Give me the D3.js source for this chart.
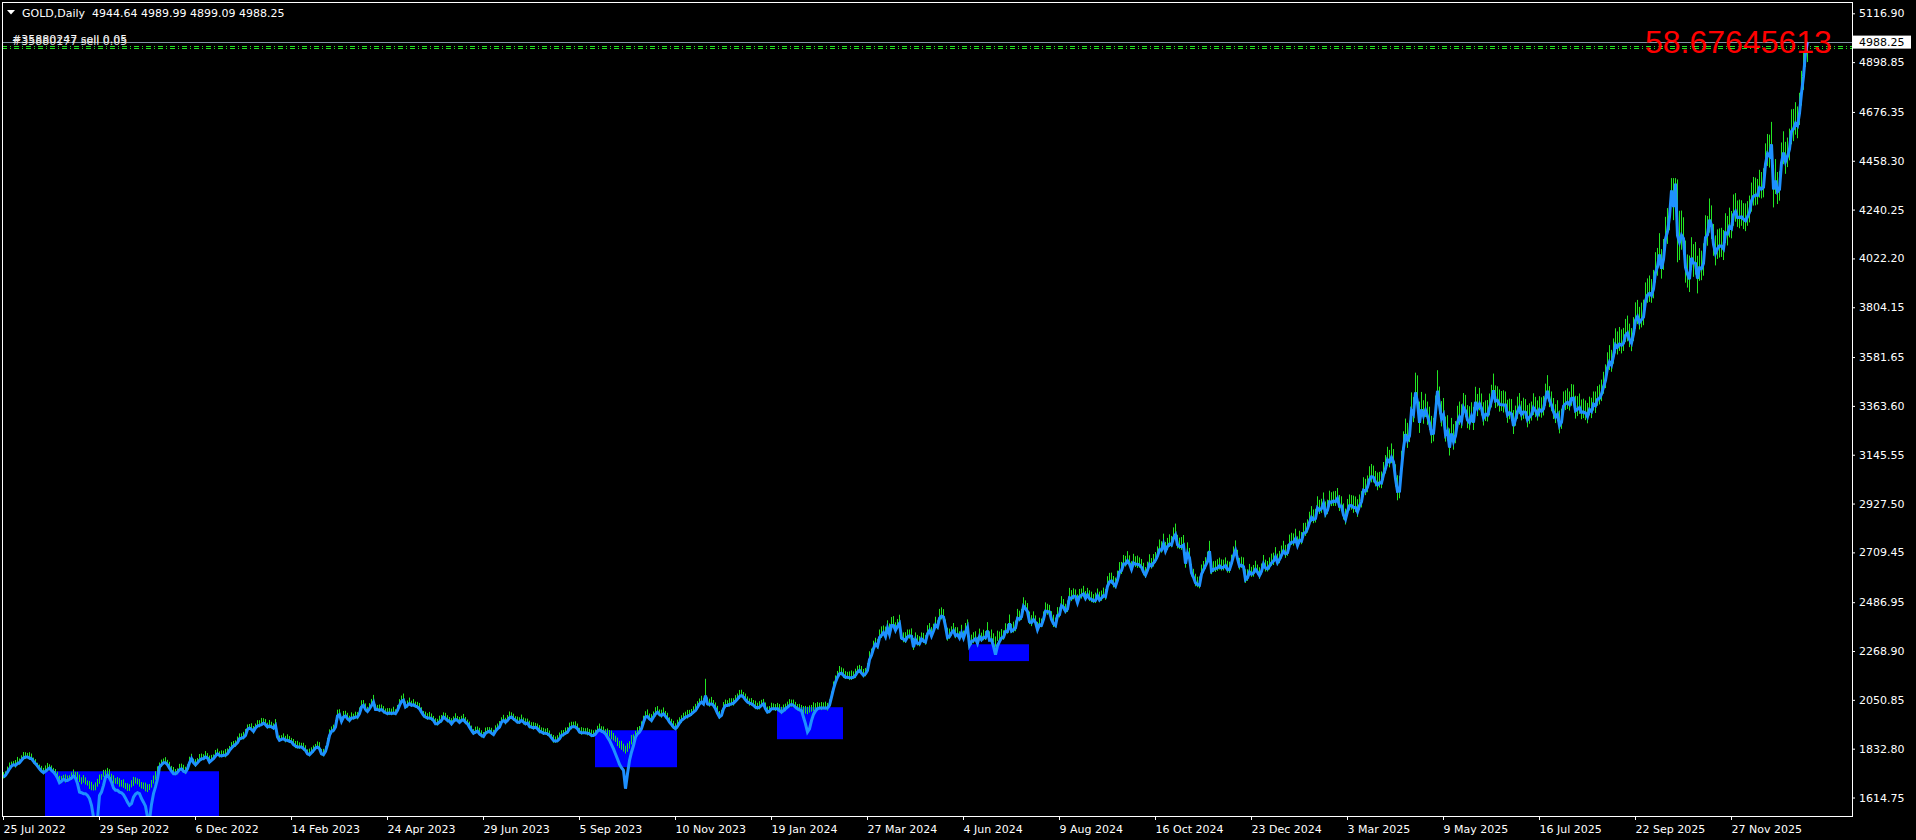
<!DOCTYPE html>
<html><head><meta charset="utf-8">
<script src="https://cdn.jsdelivr.net/npm/d3@7"></script>
<style>
html,body{margin:0;padding:0;background:#000;overflow:hidden}
svg{display:block}
text{font-family:"DejaVu Sans",sans-serif;font-size:11px;fill:#fff}
</style></head><body>
<svg id="c" width="1916" height="840"></svg>
<script>
// ---------------- DATA ----------------
const symbolTitle = "GOLD,Daily";
const lastOHLC = [4944.64, 4989.99, 4899.09, 4988.25];
const indicatorText = "58.67645613";

// daily closes, bar 0 = 25 Jul 2022
const close = [
1706,1714,1728,1743,1755,1761,1758,1766,1770,1781,
1791,1796,1796,1791,1788,1776,1766,1755,1743,1732,
1726,1732,1739,1746,1736,1728,1717,1702,1681,1687,
1696,1691,1691,1696,1702,1711,1706,1699,1691,1684,
1687,1681,1672,1662,1654,1651,1657,1669,1684,1699,
1714,1721,1721,1711,1699,1687,1681,1681,1672,1669,
1666,1657,1651,1654,1666,1676,1681,1681,1669,1662,
1657,1651,1647,1654,1669,1684,1699,1728,1751,1761,
1770,1770,1761,1746,1732,1721,1721,1728,1739,1743,
1732,1728,1743,1770,1788,1770,1761,1770,1781,1788,
1788,1796,1791,1773,1781,1788,1800,1810,1803,1800,
1803,1803,1810,1825,1836,1845,1851,1860,1877,1880,
1883,1892,1919,1925,1919,1910,1925,1934,1937,1940,
1947,1940,1930,1934,1930,1925,1937,1885,1870,1874,
1877,1870,1870,1866,1863,1851,1845,1840,1840,1840,
1833,1825,1810,1806,1815,1825,1836,1840,1833,1810,
1806,1821,1851,1892,1910,1915,1930,1979,1985,1955,
1974,1979,1967,1959,1970,1970,1974,1974,1989,2019,
2026,2008,1999,2011,2026,2041,2008,2008,2004,2008,
1999,1993,1989,1993,1989,1993,1989,2004,2026,2044,
2049,2019,2026,2034,2026,2029,2023,2019,2011,1996,
1982,1974,1970,1970,1967,1959,1944,1944,1952,1959,
1974,1967,1959,1955,1944,1955,1964,1959,1950,1959,
1962,1951,1944,1929,1914,1902,1907,1911,1899,1892,
1887,1902,1907,1911,1902,1896,1911,1922,1929,1951,
1959,1951,1959,1971,1974,1966,1959,1951,1951,1959,
1951,1944,1947,1932,1929,1926,1929,1922,1911,1907,
1902,1902,1899,1892,1881,1869,1866,1869,1877,1892,
1896,1902,1907,1922,1929,1932,1929,1922,1907,1904,
1904,1904,1902,1899,1892,1892,1899,1911,1917,1911,
1907,1899,1896,1892,1884,1877,1869,1854,1843,1837,
1828,1822,1828,1840,1862,1869,1887,1899,1907,1922,
1951,1974,1977,1966,1959,1974,1988,1996,1985,1981,
1988,1977,1966,1951,1941,1929,1922,1932,1947,1959,
1966,1974,1977,1981,1988,1996,2003,2018,2033,2041,
2033,2070,2033,2030,2033,2026,2011,1991,1974,1981,
2011,2026,2026,2030,2033,2036,2045,2055,2066,2070,
2063,2051,2041,2036,2033,2026,2018,2015,2018,2026,
2033,2011,1996,2000,2011,2011,2011,2011,2003,1996,
2003,2011,2018,2026,2030,2026,2018,2011,2006,2003,
2000,1996,1996,2000,2006,2011,2011,2014,2015,2015,
2015,2015,2015,2026,2063,2100,2130,2152,2167,2170,
2160,2152,2152,2149,2149,2152,2160,2175,2182,2170,
2160,2167,2182,2230,2250,2280,2300,2290,2329,2339,
2352,2333,2372,2344,2383,2383,2361,2379,2392,2327,
2322,2316,2332,2337,2335,2286,2320,2303,2301,2323,
2314,2309,2346,2360,2336,2358,2385,2376,2415,2425,
2421,2379,2329,2333,2350,2360,2338,2343,2327,2350,
2327,2355,2375,2294,2311,2316,2324,2303,2333,2319,
2330,2328,2360,2322,2334,2320,2298,2327,2326,2332,
2330,2356,2356,2392,2358,2364,2372,2415,2411,2422,
2469,2459,2445,2400,2396,2409,2397,2364,2386,2384,
2410,2447,2446,2443,2410,2390,2383,2427,2431,2472,
2465,2447,2456,2507,2504,2514,2512,2484,2512,2518,
2524,2504,2520,2503,2500,2493,2495,2516,2497,2506,
2516,2512,2558,2578,2582,2569,2559,2586,2622,2628,
2657,2657,2672,2658,2634,2663,2657,2656,2653,2643,
2622,2608,2630,2657,2649,2662,2674,2693,2721,2720,
2748,2715,2736,2747,2743,2774,2788,2744,2736,2736,
2742,2659,2706,2685,2618,2598,2573,2565,2563,2612,
2631,2650,2669,2715,2626,2633,2637,2640,2650,2640,
2643,2650,2632,2633,2660,2694,2718,2681,2648,2652,
2646,2587,2595,2622,2612,2618,2634,2621,2606,2624,
2658,2640,2636,2648,2662,2670,2689,2663,2677,2697,
2715,2703,2708,2745,2755,2755,2770,2740,2763,2760,
2794,2798,2815,2843,2866,2856,2861,2908,2898,2905,
2928,2882,2898,2935,2933,2939,2936,2951,2915,2916,
2876,2857,2893,2918,2919,2910,2910,2890,2917,2935,
2987,2984,3001,3034,3048,3044,3023,3011,3020,3019,
3057,3084,3123,3113,3134,3114,3038,2982,2983,3083,
3175,3237,3210,3230,3342,3327,3424,3380,3288,3348,
3319,3344,3317,3288,3239,3241,3334,3431,3366,3307,
3324,3236,3250,3177,3240,3204,3230,3290,3314,3295,
3357,3342,3300,3289,3318,3289,3381,3353,3373,3353,
3310,3326,3322,3354,3386,3433,3385,3388,3370,3369,
3368,3368,3323,3333,3328,3274,3303,3338,3357,3326,
3337,3335,3301,3313,3325,3355,3343,3324,3347,3339,
3350,3397,3431,3388,3368,3337,3314,3326,3275,3290,
3363,3373,3380,3370,3397,3398,3342,3348,3356,3335,
3336,3332,3315,3347,3339,3371,3365,3393,3397,3416,
3448,3477,3533,3560,3546,3587,3636,3626,3640,3634,
3643,3679,3689,3659,3644,3685,3746,3763,3736,3749,
3760,3833,3858,3866,3857,3886,3960,3985,4040,3976,
4017,4110,4142,4208,4326,4251,4356,4125,4095,4126,
4111,3982,3952,3930,4025,4002,4000,3932,3980,3977,
4000,4115,4127,4195,4171,4084,4045,4066,4078,4077,
4065,4136,4132,4164,4156,4218,4232,4205,4205,4208,
4197,4190,4208,4228,4279,4300,4305,4303,4338,4332,
4340,4444,4490,4480,4532,4330,4370,4320,4330,4450,
4495,4455,4478,4510,4590,4600,4625,4615,4670,4760,
4835,4940,4988.25
];

// high - close
const hiOff = [
22,18,25,28,20,16,24,30,19,22,27,21,18,26,23,17,20,15,19,24,
21,26,30,17,22,19,25,28,31,24,20,27,22,18,25,29,23,30,26,21,
28,24,19,27,31,22,25,29,33,20,24,18,26,30,22,27,21,25,29,24,
30,23,27,20,26,31,24,19,28,22,25,30,27,21,24,29,33,26,20,23,
19,25,22,28,24,30,21,17,26,23,29,24,20,27,22,18,25,21,28,23,
20,26,22,29,24,19,27,23,18,25,21,28,24,20,26,22,19,27,24,21,
25,29,22,18,27,24,20,26,23,30,22,25,19,27,23,21,28,26,22,19,
24,20,27,23,18,25,22,28,21,19,26,23,20,27,24,22,18,25,29,21,
26,23,30,27,22,25,31,28,24,20,27,23,26,21,25,19,24,22,28,30,
24,27,21,25,29,32,23,20,26,22,24,19,25,21,23,27,20,24,28,26,
30,24,22,27,21,25,20,23,26,22,19,24,21,27,23,20,25,22,28,24,
21,26,23,19,25,22,27,20,24,21,26,23,19,25,22,18,24,21,27,23,
20,25,22,18,24,21,26,23,27,22,25,20,24,28,21,23,19,25,22,26,
21,24,20,26,22,25,19,23,27,21,24,20,26,22,18,25,21,24,28,23,
20,25,22,27,24,21,26,23,19,25,22,20,24,21,26,23,19,24,28,22,
25,21,27,24,30,26,22,28,25,31,27,24,29,26,32,28,25,30,27,33,
29,26,31,24,28,25,30,27,23,26,29,24,27,22,25,28,24,30,26,23,
27,24,29,25,22,26,30,27,24,28,25,75,29,26,31,24,28,33,27,25,
30,26,23,28,25,22,27,24,29,26,23,28,25,21,26,24,29,23,27,25,
22,28,25,23,27,24,21,26,29,24,
27,23,25,28,22,26,24,21,27,25,23,28,24,26,22,29,25,27,23,26,
24,28,22,27,25,33,30,28,35,26,31,27,24,29,33,26,30,28,25,32,
29,26,33,38,30,35,28,32,36,40,31,45,34,48,38,42,36,33,39,35,
30,37,33,28,35,41,32,38,34,29,36,31,38,34,40,33,37,30,42,39,
35,31,44,36,29,34,38,32,30,36,33,39,35,42,31,37,33,29,36,32,
34,30,38,35,31,28,36,33,30,35,31,37,34,40,32,36,33,42,38,35,
40,36,38,45,33,37,31,35,32,30,36,39,34,32,37,41,35,38,33,42,
36,33,39,44,37,35,32,38,34,30,36,33,31,37,34,30,35,32,37,33,
36,34,45,40,37,35,38,42,44,39,
41,37,43,38,36,40,35,39,34,37,41,36,38,44,35,40,37,43,46,39,
45,41,38,43,40,47,50,44,39,42,45,52,48,44,40,38,41,36,39,43,
40,38,44,46,41,37,35,39,36,38,34,37,40,35,39,42,45,40,37,38,
41,47,39,36,33,35,38,34,37,36,
40,37,35,39,42,38,44,41,39,43,46,40,38,44,42,39,45,41,43,40,
47,44,42,48,50,45,43,52,46,44,49,55,47,50,45,43,48,46,51,44,
52,48,55,50,46,53,49,57,51,48,58,54,52,60,56,53,50,55,49,52,
56,60,58,54,62,57,65,72,68,80,
75,70,78,68,82,76,88,120,95,78,70,74,66,72,80,69,76,92,84,78,
75,80,72,86,70,78,66,74,69,76,64,71,67,73,62,70,68,64,71,66,
70,62,68,65,72,75,70,63,67,61,65,60,68,63,66,71,62,67,64,60,
63,59,66,62,58,65,61,64,60,63,58,66,70,64,60,62,57,63,68,61,
65,60,62,58,64,61,67,59,63,57,60,56,62,58,61,57,63,59,62,65,
68,72,70,75,68,78,74,70,76,71,69,73,78,72,67,75,80,74,70,76,
78,82,75,80,73,85,90,84,95,88,
92,98,105,30,55,130,25,250,140,110,
95,120,88,105,92,84,96,102,88,80,
90,100,85,95,88,92,80,86,78,82,
84,88,80,85,78,90,82,76,80,74,
72,78,70,75,82,86,78,74,80,76,
85,92,88,95,100,110,96,88,82,90,
95,88,84,92,98,90,95,86,92,100,
105,60,1.74
];

// close - low
const loOff = [
6,8,5,9,7,4,10,6,8,5,7,9,4,8,6,10,5,7,9,6,
8,5,7,10,6,4,9,7,5,8,6,10,7,4,8,6,9,5,7,10,
6,8,4,9,7,5,10,6,8,5,7,9,6,4,8,10,5,7,9,6,
8,5,7,10,6,9,4,8,6,7,5,9,8,6,10,7,5,8,6,9,
7,5,9,6,8,4,7,10,5,8,6,9,7,5,8,6,10,4,7,9,
5,8,6,9,7,4,8,6,10,5,7,9,6,8,4,7,10,5,8,6,
9,7,5,8,6,10,4,7,9,5,8,6,7,10,5,9,6,8,4,7,
6,9,5,8,7,4,10,6,8,5,9,7,6,8,4,10,7,5,9,6,
8,5,10,7,6,9,4,8,7,5,10,6,8,9,5,7,6,10,4,8,
7,9,5,8,6,10,7,4,8,6,9,5,7,10,6,8,4,7,9,5,
8,6,10,7,5,9,6,8,4,7,10,5,8,6,9,7,5,8,6,10,
7,5,9,6,8,4,10,7,5,8,6,9,7,5,10,6,8,4,7,9,
6,8,5,10,7,4,9,6,8,5,7,10,6,8,4,9,7,5,8,6,
10,7,5,9,6,8,4,7,10,5,8,6,9,7,5,10,6,8,4,7,
9,6,8,5,10,7,4,8,6,9,5,7,10,6,8,4,9,7,5,8,
6,10,7,5,9,8,6,10,7,9,8,11,9,7,10,6,8,5,9,7,
10,6,8,5,9,7,11,6,8,10,5,9,7,6,10,8,5,9,7,11,
6,8,10,5,9,7,6,11,8,5,9,12,7,10,6,8,11,7,9,6,
10,8,5,9,7,11,6,8,10,5,9,7,6,11,8,5,9,7,10,6,
8,11,5,9,7,6,10,8,5,9,7,11,6,8,10,5,9,7,6,8,
10,7,9,6,8,11,5,9,7,10,6,8,12,9,7,11,8,10,6,9,
11,8,7,10,9,6,12,8,10,7,9,11,8,12,10,9,13,11,8,12,
10,14,9,12,11,8,13,10,12,9,14,11,10,13,9,12,15,10,11,13,
9,12,10,14,11,8,13,10,12,15,9,11,14,10,13,8,12,11,9,14,
10,13,11,9,15,12,10,14,11,9,13,10,12,8,14,11,10,13,9,12,
11,14,10,12,9,13,15,11,10,14,12,9,13,11,16,10,12,14,11,9,
13,10,15,12,11,14,9,13,12,10,15,11,13,9,12,14,10,13,11,15,
12,10,14,11,13,9,12,15,10,13,11,14,12,10,13,16,11,14,12,15,
13,11,15,12,14,10,13,16,12,11,15,13,10,14,12,16,11,13,15,12,
14,12,16,13,11,15,14,17,12,15,13,18,14,12,16,13,15,11,14,17,
13,15,12,16,14,11,15,13,17,12,14,16,13,15,11,14,17,13,15,12,
16,14,13,15,12,17,14,11,15,13,
14,16,12,15,13,17,14,12,16,15,13,18,14,16,12,15,17,13,16,14,
18,15,17,14,20,16,18,22,17,19,21,16,18,20,17,22,19,16,21,18,
20,23,18,21,19,24,20,22,18,25,21,19,23,20,26,22,19,24,21,23,
25,22,28,24,26,30,35,40,32,28,
30,26,34,28,32,36,30,40,45,33,35,30,38,32,42,36,30,34,40,35,
38,32,40,35,30,36,33,28,35,31,34,29,36,32,28,33,30,35,29,32,
34,30,28,33,29,35,31,27,32,28,34,30,35,29,31,36,28,32,30,27,
31,28,33,29,27,32,30,26,31,28,29,33,35,30,28,32,27,31,34,29,
32,28,30,27,33,29,35,30,28,31,
27,32,29,26,30,28,33,29,27,31,
30,34,32,36,30,35,38,33,31,36,34,30,37,33,36,32,38,34,31,35,
36,40,34,38,33,42,45,40,48,44,
46,50,55,60,70,58,62,120,80,65,
72,68,60,58,55,62,50,66,58,52,
55,60,48,58,62,50,54,46,52,48,
50,45,52,48,44,50,46,42,48,40,
44,46,40,45,48,42,46,40,44,42,
45,50,55,52,58,80,60,55,50,48,
52,55,48,50,58,54,50,56,52,55,
60,62,89.16
];

// indicator (blue line) drop below the price: [first bar, offsets]
const blueDips = [
  [36, [4,22,52,48,55,49,48,52,74,124,167,150,60,60,45,15,7,9,15,30,34,34,33,33,39,45,57,74,79,60,51,45,37,52,63,75,120,140,85,52,37,30]],
  [302,[12,22,33,45,60,67,80,89,92,168,107,60,45,22,3]],
  [400,[27,52,89,79,48,25,10,3]],
  [493,[5,15,30,45,35,15,5]]
];

// blue rectangle zones: bar range and price range
const zoneFrom   = [21, 296, 387, 483];
const zoneTo     = [108, 337, 420, 513];
const zoneTop    = [1732, 1915, 2018, 2299];
const zoneBottom = [1450, 1750, 1875, 2224];

const orderLevels = [4973, 4960];
const orderLabels = ["#35880247 sell 0.05", "#35880177 sell 0.05"];

const priceTicks = [5116.90,4898.85,4676.35,4458.30,4240.25,4022.20,3804.15,3581.65,3363.60,3145.55,2927.50,2709.45,2486.95,2268.90,2050.85,1832.80,1614.75];
const timeTickBars = [0,48,96,144,192,240,288,336,384,432,480,528,576,624,672,720,768,816,864];
const timeTickLabels = ["25 Jul 2022","29 Sep 2022","6 Dec 2022","14 Feb 2023","24 Apr 2023","29 Jun 2023","5 Sep 2023","10 Nov 2023","19 Jan 2024","27 Mar 2024","4 Jun 2024","9 Aug 2024","16 Oct 2024","23 Dec 2024","3 Mar 2025","9 May 2025","16 Jul 2025","22 Sep 2025","27 Nov 2025"];

// ---------------- DRAW ----------------
const svg = d3.select("#c");
const L = 2, T = 2, R = 1852, B = 816;
const n = close.length;
const barGreen = "#22e622";
const x = d3.scaleLinear().domain([0, 1]).range([3, 5]);
const y = d3.scaleLinear().domain([1614.75, 5116.90]).range([797.5, 13.3]);

const dev = new Array(n).fill(0);
blueDips.forEach(([s, arr]) => arr.forEach((v, k) => { if (s + k < n) dev[s + k] = v; }));

svg.append("rect").attr("width", 1916).attr("height", 840).attr("fill", "#000");

svg.append("defs").append("clipPath").attr("id", "clip")
  .append("rect").attr("x", L).attr("y", T).attr("width", R - L).attr("height", B - T);

const plot = svg.append("g").attr("clip-path", "url(#clip)");

// zones
plot.append("g").selectAll("rect").data(zoneFrom).join("rect")
  .attr("x", (d, i) => x(zoneFrom[i]))
  .attr("width", (d, i) => x(zoneTo[i]) - x(zoneFrom[i]))
  .attr("y", (d, i) => y(zoneTop[i]))
  .attr("height", (d, i) => y(zoneBottom[i]) - y(zoneTop[i]))
  .attr("fill", "#0000ff");

// order lines and bid line
plot.append("g").selectAll("line").data(orderLevels).join("line")
  .attr("x1", L).attr("x2", R)
  .attr("y1", d => Math.round(y(d)) + 0.5).attr("y2", d => Math.round(y(d)) + 0.5)
  .attr("stroke", barGreen).attr("stroke-width", 1).attr("stroke-dasharray", "5,3,1,3");
plot.append("line").attr("x1", L).attr("x2", R)
  .attr("y1", Math.round(y(lastOHLC[3])) + 0.5).attr("y2", Math.round(y(lastOHLC[3])) + 0.5)
  .attr("stroke", "#8494a8").attr("stroke-width", 1);

// bars
const idx = d3.range(n);
plot.append("g").selectAll("line").data(idx).join("line")
  .attr("x1", i => x(i) + 0.5).attr("x2", i => x(i) + 0.5)
  .attr("y1", i => y(close[i] + (hiOff[i] ?? 10)))
  .attr("y2", i => y(close[i] - (loOff[i] ?? 5)))
  .attr("stroke", barGreen).attr("stroke-width", 1);

// blue line
plot.append("path").datum(idx)
  .attr("d", d3.line().x(i => x(i) + 0.5).y(i => y(close[i] - dev[i])))
  .attr("fill", "none").attr("stroke", "#1e90ff").attr("stroke-width", 3);

// frame
svg.append("rect").attr("x", L + 0.5).attr("y", T + 0.5).attr("width", R - L).attr("height", B - T)
  .attr("fill", "none").attr("stroke", "#fff").attr("stroke-width", 1);

// price axis
const ya = svg.append("g").attr("transform", `translate(${R},0)`)
  .call(d3.axisRight(y).tickValues(priceTicks).tickSize(3).tickPadding(4).tickFormat(d => d.toFixed(2)));
ya.select(".domain").remove();
ya.selectAll("line").attr("stroke", "#fff");
ya.selectAll("text").attr("fill", "#fff").style("font-family", "DejaVu Sans").style("font-size", "11px");

// time axis
const xa = svg.append("g").attr("transform", `translate(0,${B})`)
  .call(d3.axisBottom(x).tickValues(timeTickBars).tickSize(4).tickFormat((d, i) => timeTickLabels[i]));
xa.select(".domain").remove();
xa.selectAll("line").attr("stroke", "#fff");
xa.selectAll("text").attr("fill", "#fff").attr("text-anchor", "start").attr("x", 0).attr("dy", null).attr("y", 16.5)
  .style("font-family", "DejaVu Sans").style("font-size", "11px");

// current price box
const by = y(lastOHLC[3]);
svg.append("rect").attr("x", R + 1).attr("y", by - 6.5).attr("width", 58).attr("height", 13).attr("fill", "#fff");
svg.append("text").attr("x", R + 7).attr("y", by + 4).text(lastOHLC[3].toFixed(2)).attr("fill", "#000").style("fill", "#000");

// header
svg.append("path").attr("d", "M7,10 L15,10 L11,14.5 Z").attr("fill", "#fff");
svg.append("text").attr("x", 22).attr("y", 16.5).attr("xml:space", "preserve")
  .text(symbolTitle + "  " + lastOHLC.map(v => v.toFixed(2)).join(" "));

// order labels
orderLabels.forEach((t, i) => {
  svg.append("text").attr("x", 12).attr("y", 42.5 + i * 2).text(t).style("fill", i ? "#d8d8d8" : "#ffffff");
});

// indicator value
svg.append("text").attr("x", 1645).attr("y", 53).text(indicatorText)
  .style("font-family", "'Liberation Sans', Arial, sans-serif").style("font-size", "32px").style("fill", "#ff0000");
</script>
</body></html>
